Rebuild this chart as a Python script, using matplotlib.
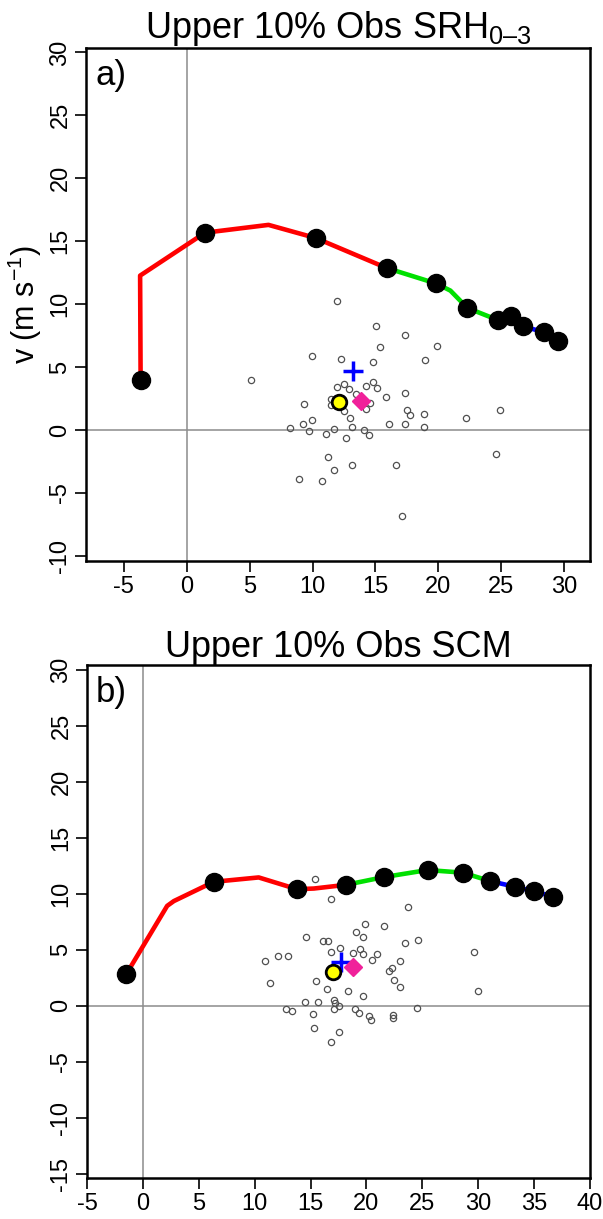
import matplotlib
matplotlib.use('Agg')
import matplotlib.pyplot as plt

plt.rcParams['font.family'] = ['Liberation Sans', 'DejaVu Sans']
plt.rcParams['mathtext.fontset'] = 'custom'
plt.rcParams['mathtext.rm'] = 'Liberation Sans'
plt.rcParams['axes.unicode_minus'] = False

# ---- panel a: upper 10% obs SRH 0-3 ----
a_u = [-3.66, -3.7, 1.46, 6.5, 10.24, 15.9, 19.8, 20.95, 22.3, 24.7, 25.8, 26.7, 28.4, 29.5]
a_v = [3.98, 12.27, 15.68, 16.3, 15.26, 12.87, 11.65, 11.08, 9.7, 8.75, 9.03, 8.24, 7.78, 7.05]
a_dots = [0, 2, 4, 5, 6, 8, 9, 10, 11, 12, 13]
a_split = [0, 5, 10, 13]   # red / green / blue segment ends

a_obs_u = [11.95, 15.05, 17.36, 15.34, 19.88, 9.95, 12.26, 14.84, 18.93, 5.12,
           14.84, 11.95, 12.48, 12.87, 14.26, 15.13, 13.46, 15.85, 17.36, 11.47,
           11.47, 9.34, 14.60, 14.26, 12.53, 17.47, 17.71, 18.87, 22.22, 24.90,
           12.95, 9.95, 9.24, 8.23, 11.68, 13.17, 16.09, 17.36, 18.87, 9.74,
           11.07, 14.12, 14.47, 12.64, 11.26, 24.58, 13.17, 16.64, 11.68, 8.95,
           10.75, 17.07]
a_obs_v = [10.28, 8.30, 7.59, 6.59, 6.68, 5.91, 5.68, 5.40, 5.54, 3.98,
           3.78, 3.41, 3.69, 3.27, 3.49, 3.32, 2.90, 2.61, 2.98, 2.50,
           1.99, 2.07, 2.19, 1.65, 1.48, 1.62, 1.19, 1.28, 0.99, 1.56,
           0.99, 0.80, 0.48, 0.20, 0.09, 0.28, 0.48, 0.48, 0.28, -0.11,
           -0.34, 0.0, -0.43, -0.60, -2.10, -1.93, -2.81, -2.81, -3.21, -3.92,
           -4.01, -6.82]
a_plus = (13.18, 4.69)
a_diamond = (13.87, 2.33)
a_yellow = (12.07, 2.22)

# ---- panel b: upper 10% obs SCM ----
b_u = [-1.49, 2.17, 2.77, 6.34, 10.36, 13.79, 15.3, 18.17, 21.55, 25.46, 28.6, 31.08, 33.3, 35.0, 36.7]
b_v = [2.8, 8.9, 9.33, 11.05, 11.44, 10.39, 10.45, 10.78, 11.47, 12.1, 11.87, 11.11, 10.6, 10.19, 9.73]
b_dots = [0, 3, 5, 7, 8, 9, 10, 11, 12, 13, 14]
b_split = [0, 7, 11, 14]

b_obs_u = [15.41, 16.81, 23.69, 19.90, 21.57, 19.07, 19.70, 14.60, 16.09, 16.60,
           23.48, 24.58, 17.67, 16.81, 19.40, 18.80, 19.73, 20.98, 20.50, 29.59,
           10.91, 12.10, 12.99, 22.97, 22.32, 22.00, 17.37, 22.50, 11.41, 15.49,
           22.97, 16.51, 18.39, 19.73, 29.98, 14.51, 15.67, 17.13, 17.19, 17.58,
           12.81, 13.38, 15.23, 17.10, 18.98, 19.31, 20.23, 20.41, 22.38, 22.38,
           24.49, 15.32, 17.58, 16.81]
b_obs_v = [11.28, 9.50, 8.77, 7.29, 7.09, 6.59, 6.10, 6.10, 5.77, 5.77,
           5.61, 5.87, 5.18, 4.78, 5.01, 4.71, 4.58, 4.62, 4.09, 4.78,
           3.99, 4.39, 4.39, 3.99, 3.36, 3.10, 3.07, 2.31, 1.98, 2.18,
           1.68, 1.45, 1.29, 0.89, 1.29, 0.36, 0.36, 0.46, 0.26, 0.0,
           -0.30, -0.49, -0.76, -0.30, -0.30, -0.69, -0.89, -1.32, -0.82, -1.12,
           -0.20, -1.98, -2.37, -3.26]
b_plus = (17.7, 3.86)
b_diamond = (18.77, 3.46)
b_yellow = (16.98, 2.97)

seg_colors = ['#FF0000', '#00E000', '#0000FF']


def hodo_panel(ax, u, v, dots, split, obs_u, obs_v, plus, diamond, yellow,
               title, label, xlim, ylim, xticks, yticks):
    ax.axhline(0, color='#8c8c8c', lw=1.1, zorder=1)
    ax.axvline(0, color='#8c8c8c', lw=1.1, zorder=1)
    ax.plot(obs_u, obs_v, 'o', ms=4.5, mfc='none', mec='#505050', mew=0.9, zorder=2)
    for i in range(3):
        s, e = split[i], split[i + 1]
        ax.plot(u[s:e + 1], v[s:e + 1], '-', color=seg_colors[i], lw=3.3,
                solid_capstyle='round', zorder=3)
    ax.plot([u[i] for i in dots], [v[i] for i in dots], 'o', color='black',
            ms=13, zorder=4)
    ax.plot(*plus, '+', color='#0000FF', ms=15, mew=2.5, zorder=5)
    ax.plot(*diamond, 'D', color='#F0219A', ms=9.5, zorder=5)
    ax.plot(*yellow, 'o', mfc='#FFFF00', mec='black', mew=2, ms=10.5, zorder=6)

    ax.set_xlim(*xlim)
    ax.set_ylim(*ylim)
    ax.set_xticks(xticks)
    ax.set_yticks(yticks)
    ax.tick_params(labelsize=17, length=8, width=1.2, pad=2.5)
    for t in ax.get_yticklabels():
        t.set_rotation(90)
        t.set_va('center')
    for sp in ax.spines.values():
        sp.set_linewidth(1.8)
    ax.set_title(title, fontsize=26, pad=6)
    ax.text(0.018, 0.978, label, transform=ax.transAxes, fontsize=25,
            ha='left', va='top')


fig = plt.figure(figsize=(6.03, 12.19), dpi=100)
ax1 = fig.add_axes([0.1426, 0.5398, 0.8358, 0.4208])
ax2 = fig.add_axes([0.1443, 0.0336, 0.8342, 0.4208])

hodo_panel(ax1, a_u, a_v, a_dots, a_split, a_obs_u, a_obs_v, a_plus, a_diamond, a_yellow,
           'Upper 10% Obs SRH$\\mathregular{_{0\u20133}}$', 'a)',
           (-8.0, 32.04), (-10.4, 30.35), range(-5, 31, 5), range(-10, 31, 5))
ax1.set_ylabel('v (m s$\\mathregular{^{-1}}$)', fontsize=22, labelpad=4)

hodo_panel(ax2, b_u, b_v, b_dots, b_split, b_obs_u, b_obs_v, b_plus, b_diamond, b_yellow,
           'Upper 10% Obs SCM', 'b)',
           (-5, 40), (-15.4, 30.4), range(-5, 41, 5), range(-15, 31, 5))

fig.savefig('out.png', dpi=100)
